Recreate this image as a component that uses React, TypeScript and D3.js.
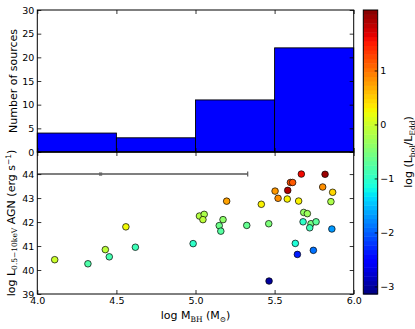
import { useEffect, useRef } from 'react';
import * as d3 from 'd3';

// log black hole mass, log X-ray luminosity, log Eddington ratio (one entry per source)
const massBH = [
  4.11, 4.32, 4.43, 4.455, 4.56, 4.62, 4.985, 5.025, 5.055, 5.047,
  5.197, 5.174, 5.15, 5.16, 5.324, 5.463, 5.416, 5.465, 5.503, 5.522,
  5.58, 5.583, 5.6, 5.614, 5.669, 5.652, 5.684, 5.707, 5.68, 5.73,
  5.762, 5.722, 5.631, 5.644, 5.745, 5.819, 5.804, 5.867, 5.856, 5.862,
];
const lumX = [
  40.43, 40.26, 40.85, 40.55, 41.8, 40.95, 41.1, 42.25, 42.32, 42.1,
  42.87, 42.1, 41.85, 41.62, 41.86, 41.93, 42.74, 39.54, 43.29, 42.99,
  42.96, 43.32, 43.65, 43.65, 44.0, 42.875, 42.4, 42.35, 42.01, 41.93,
  42.01, 41.76, 41.11, 40.65, 40.82, 43.99, 43.46, 43.24, 42.85, 41.71,
];
const eddRatio = [
  0.0, -0.8, -0.1, -0.85, 0.25, -0.9, -1.0, -0.15, -0.2, -0.1,
  0.75, -0.4, -0.6, -0.75, -0.65, -0.5, 0.3, -3.0, 0.8, 0.85,
  0.3, 1.9, 1.2, 1.15, 1.6, 0.3, -0.35, -0.3, -1.0, -0.55,
  -0.7, -0.9, -1.1, -2.35, -1.9, 2.0, 0.85, 0.45, -0.2, -1.7,
];

const binEdges = [4.5, 5.0, 5.5];
const massTicks = [4.0, 4.5, 5.0, 5.5, 6.0];
const countTicks = [0, 5, 10, 15, 20, 25, 30];
const lumTicks = [39, 40, 41, 42, 43, 44];
const colorTicks = [-3, -2, -1, 0, 1];

// representative error bar
const errMass = 4.4;
const errLum = 44;
const errWidth = 0.93;

const W = 415;
const H = 329;

const jetR = d3.scaleLinear().domain([0, 0.35, 0.66, 0.89, 1]).range([0, 0, 1, 1, 0.5]).clamp(true);
const jetG = d3.scaleLinear().domain([0, 0.125, 0.375, 0.64, 0.91, 1]).range([0, 0, 1, 1, 0, 0]).clamp(true);
const jetB = d3.scaleLinear().domain([0, 0.11, 0.34, 0.65, 1]).range([0.5, 1, 1, 0, 0]).clamp(true);
const jet = (t: number) => d3.rgb(jetR(t) * 255, jetG(t) * 255, jetB(t) * 255).toString();

const App = () => {
  const svgRef = useRef<SVGSVGElement>(null);

  useEffect(() => {
    const root = d3.select(svgRef.current);
    root.selectAll('*').remove();

    const left = 37.3, right = 353.7, top = 10, mid = 152, bottom = 294;
    const cbLeft = 363.3, cbRight = 377.7;
    const font = 'DejaVu Sans';

    const x = d3.scaleLinear().domain([4, 6]).range([left, right]);
    const yTop = d3.scaleLinear().domain([0, 30]).range([mid, top]);
    const yBot = d3.scaleLinear().domain([39, 44.92]).range([bottom, mid]);
    const cDomain = [-3.14, 2.12];
    const yCb = d3.scaleLinear().domain(cDomain).range([bottom, top]);
    const norm = d3.scaleLinear().domain(cDomain).range([0, 1]).clamp(true);

    const styleAxis = (g: any) => {
      g.select('.domain').remove();
      g.selectAll('line').attr('stroke', '#000').attr('stroke-width', 0.8);
      g.selectAll('text').attr('font-family', font).attr('font-size', 9.5).attr('fill', '#000');
    };

    // clip for the scatter panel
    root.append('defs').append('clipPath').attr('id', 'bot-clip')
      .append('rect').attr('x', left).attr('y', mid).attr('width', right - left).attr('height', bottom - mid);

    // ---- histogram ----
    const bins = d3.bin().domain([4, 6]).thresholds(binEdges)(massBH);
    root.append('g').selectAll('rect').data(bins).enter().append('rect')
      .attr('x', d => x(d.x0!))
      .attr('width', d => x(d.x1!) - x(d.x0!))
      .attr('y', d => yTop(d.length))
      .attr('height', d => yTop(0) - yTop(d.length))
      .attr('fill', '#0000ff')
      .attr('stroke', '#000')
      .attr('stroke-width', 0.9);

    root.append('g').attr('transform', `translate(${left},0)`)
      .call(d3.axisLeft(yTop).tickValues(countTicks).tickSizeInner(-4).tickSizeOuter(0).tickPadding(3).tickFormat(d3.format('d')))
      .call(styleAxis);
    root.append('g').attr('transform', `translate(${right},0)`)
      .call(d3.axisRight(yTop).tickValues(countTicks).tickSizeInner(-4).tickSizeOuter(0).tickFormat(() => ''))
      .call(styleAxis);
    root.append('g').attr('transform', `translate(0,${mid})`)
      .call(d3.axisBottom(x).tickValues(massTicks).tickSizeInner(-4).tickSizeOuter(0).tickFormat(() => ''))
      .call(styleAxis);
    root.append('g').attr('transform', `translate(0,${top})`)
      .call(d3.axisTop(x).tickValues(massTicks).tickSizeInner(-4).tickSizeOuter(0).tickFormat(() => ''))
      .call(styleAxis);

    root.append('rect').attr('x', left).attr('y', top).attr('width', right - left).attr('height', mid - top)
      .attr('fill', 'none').attr('stroke', '#000').attr('stroke-width', 1);

    // ---- scatter panel ----
    const eb = root.append('g').attr('clip-path', 'url(#bot-clip)');
    eb.append('line')
      .attr('x1', x(errMass - errWidth)).attr('x2', x(errMass + errWidth))
      .attr('y1', yBot(errLum)).attr('y2', yBot(errLum))
      .attr('stroke', '#555').attr('stroke-width', 1.4);
    [errMass - errWidth, errMass + errWidth].forEach(v => {
      eb.append('line').attr('x1', x(v)).attr('x2', x(v))
        .attr('y1', yBot(errLum) - 2.5).attr('y2', yBot(errLum) + 2.5)
        .attr('stroke', '#555').attr('stroke-width', 1.2);
    });
    eb.append('rect').attr('x', x(errMass) - 1.6).attr('y', yBot(errLum) - 1.6)
      .attr('width', 3.2).attr('height', 3.2).attr('fill', '#666');

    const pts = massBH.map((m, i) => ({ m, l: lumX[i], e: eddRatio[i] }));
    eb.selectAll('circle').data(pts).enter().append('circle')
      .attr('cx', d => x(d.m))
      .attr('cy', d => yBot(d.l))
      .attr('r', 3.3)
      .attr('fill', d => jet(norm(d.e)))
      .attr('stroke', '#000')
      .attr('stroke-width', 0.7);

    root.append('g').attr('transform', `translate(${left},0)`)
      .call(d3.axisLeft(yBot).tickValues(lumTicks).tickSizeInner(-4).tickSizeOuter(0).tickPadding(3).tickFormat(d3.format('d')))
      .call(styleAxis);
    root.append('g').attr('transform', `translate(${right},0)`)
      .call(d3.axisRight(yBot).tickValues(lumTicks).tickSizeInner(-4).tickSizeOuter(0).tickFormat(() => ''))
      .call(styleAxis);
    root.append('g').attr('transform', `translate(0,${bottom})`)
      .call(d3.axisBottom(x).tickValues(massTicks).tickSizeInner(-4).tickSizeOuter(0).tickPadding(3).tickFormat(d3.format('.1f')))
      .call(styleAxis);
    root.append('g').attr('transform', `translate(0,${mid})`)
      .call(d3.axisTop(x).tickValues(massTicks).tickSizeInner(-4).tickSizeOuter(0).tickFormat(() => ''))
      .call(styleAxis);

    root.append('rect').attr('x', left).attr('y', mid).attr('width', right - left).attr('height', bottom - mid)
      .attr('fill', 'none').attr('stroke', '#000').attr('stroke-width', 1);

    // ---- colorbar ----
    const nBands = 64;
    const bands = d3.range(nBands);
    const bandH = (bottom - top) / nBands;
    root.append('g').selectAll('rect').data(bands).enter().append('rect')
      .attr('x', cbLeft)
      .attr('width', cbRight - cbLeft)
      .attr('y', i => bottom - (i + 1) * bandH)
      .attr('height', bandH + 0.5)
      .attr('fill', i => jet((i + 0.5) / nBands));
    root.append('rect').attr('x', cbLeft).attr('y', top).attr('width', cbRight - cbLeft).attr('height', bottom - top)
      .attr('fill', 'none').attr('stroke', '#000').attr('stroke-width', 1);
    root.append('g').attr('transform', `translate(${cbRight},0)`)
      .call(d3.axisRight(yCb).tickValues(colorTicks).tickSizeInner(-3).tickSizeOuter(0).tickPadding(2.5).tickFormat(d3.format('d')))
      .call(styleAxis);

    // ---- labels ----
    const label = (tx: number, ty: number, rot: number) =>
      root.append('text')
        .attr('transform', `translate(${tx},${ty}) rotate(${rot})`)
        .attr('text-anchor', 'middle')
        .attr('font-family', font)
        .attr('font-size', 11)
        .attr('fill', '#000');
    const sub = (t: any, s: string, dy: number) =>
      t.append('tspan').attr('font-family', 'DejaVu Serif').attr('font-size', 7.5).attr('dy', dy).text(s);
    const plain = (t: any, s: string, dy: number) => t.append('tspan').attr('dy', dy).text(s);

    label(17.3, (top + mid) / 2, -90).text('Number of sources');

    const yl = label(14.5, (mid + bottom) / 2, -90);
    plain(yl, 'log L', 0);
    sub(yl, '0.5\u221210keV', 2.5);
    plain(yl, ' AGN (erg s', -2.5);
    yl.append('tspan').attr('font-size', 7.5).attr('dy', -4).text('\u22121');
    plain(yl, ')', 4);

    const xl = label((left + right) / 2, 319, 0);
    plain(xl, 'log M', 0);
    sub(xl, 'BH', 2.5);
    plain(xl, ' (M', -2.5);
    sub(xl, '\u2299', 2.5);
    plain(xl, ')', -2.5);

    const cl = label(412, (top + bottom) / 2, -90);
    plain(cl, 'log (L', 0);
    sub(cl, 'bol', 2.5);
    plain(cl, '/L', -2.5);
    sub(cl, 'Edd', 2.5);
    plain(cl, ')', -2.5);
  }, []);

  return (
    <div style={{ position: 'absolute', left: 0, top: 0 }}>
      <svg ref={svgRef} width={W} height={H} style={{ display: 'block', background: '#fff' }}></svg>
    </div>
  );
};

export default App;
